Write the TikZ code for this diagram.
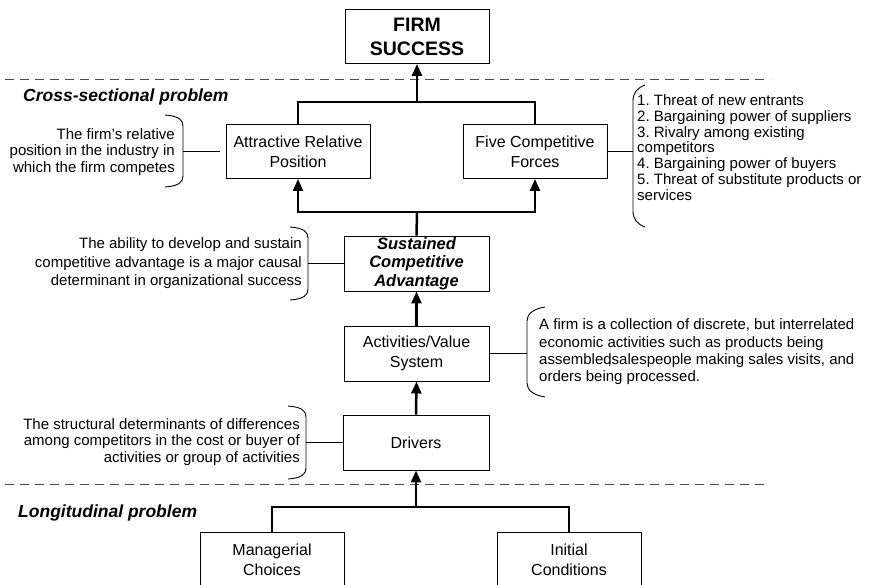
\documentclass[tikz,border=0pt]{standalone}
\usepackage{fontspec}
\setmainfont{Liberation Sans}
\usetikzlibrary{arrows.meta}
\frenchspacing
\begin{document}
\begin{tikzpicture}[x=1pt,y=-1pt,
  box/.style={draw, line width=0.9pt, inner sep=0pt, minimum width=144pt,
    minimum height=54pt, align=center, font=\fontsize{16}{20}\selectfont},
  note/.style={inner sep=0pt, font=\fontsize{15}{16.5}\selectfont},
  heading/.style={inner sep=0pt, anchor=west,
    font=\fontsize{17.5}{20}\selectfont\bfseries\itshape},
  flow/.style={line width=2.5pt},
  flowarrow/.style={line width=2.5pt, -{Triangle[width=10pt,length=12pt]}},
  link/.style={line width=1pt},
  brace/.style={line width=0.9pt},
  divider/.style={line width=1pt, dash pattern=on 9pt off 6pt, black!70}
]
\useasboundingbox (0,0) rectangle (875,584);
\clip (0,0) rectangle (875,584);

% boxes of the causal chain
\node[box, font=\fontsize{19.5}{24}\selectfont\bfseries] (firm) at (417,36.5) {FIRM\\SUCCESS};
\node[box] (arp) at (298,151.5) {Attractive Relative\\Position};
\node[box] (fcf) at (535,151.5) {Five Competitive\\Forces};
\node[box, minimum width=145pt, minimum height=55pt,
  font=\fontsize{16.5}{18.5}\selectfont\bfseries\itshape] (sca) at (416.5,263.5)
  {Sustained\\Competitive\\Advantage};
\node[box, minimum width=145pt, minimum height=55pt] (act) at (416.5,353.5) {Activities/Value\\System};
\node[box, minimum width=146pt, minimum height=55pt] (drv) at (416,442.5) {Drivers};
\node[box, minimum height=56pt] (mc) at (272,560) {Managerial\\Choices};
\node[box, minimum height=56pt] (ic) at (569,560) {Initial\\Conditions};

% section dividers and headings
\coordinate (d1a) at (5,79);  \coordinate (d1b) at (770,79);
\coordinate (d2a) at (5,484); \coordinate (d2b) at (770,484);
\draw[divider] (d1a) -- (d1b);
\draw[divider] (d2a) -- (d2b);
\node[heading] (cross) at (23,97) {Cross-sectional problem};
\node[heading] (longi) at (18,513) {Longitudinal problem};

% tree connectors
\coordinate (j1) at (417,102);
\coordinate (j2) at (417,212);
\coordinate (j3) at (416,507);
\draw[flow] (arp.north) |- (j1) -| (fcf.north);
\draw[flowarrow] (j1) -- (firm.south);
\draw[flow] (sca.north) -- (j2);
\draw[flowarrow] (j2) -| (arp.south);
\draw[flowarrow] (j2) -| (fcf.south);
\draw[flowarrow] (act.north) -- (sca.south);
\draw[flowarrow] (drv.north) -- (act.south);
\draw[flow] (mc.north) |- (j3) -| (ic.north);
\draw[flowarrow] (j3) -- (drv.south);

% annotations on the left (closing braces)
\node[note, anchor=east, align=right] (arpnote) at (175,152)
  {The firm’s relative\\position in the industry in\\which the firm competes};
\draw[brace] (165,115) .. controls (179,116) and (183,120) .. (183,126)
  -- (183,176) .. controls (183,182) and (179,186) .. (165,187);
\coordinate (barp) at (183,151.5);
\draw[link, shorten >=6pt] (barp) -- (arp.west);

\node[note, anchor=east, align=right, font=\fontsize{15}{18.5}\selectfont] (scanote) at (302,263.5)
  {The ability to develop and sustain\\competitive advantage is a major causal\\determinant in organizational success};
\draw[brace] (290,227) .. controls (304,228) and (308,232) .. (308,238)
  -- (308,289) .. controls (308,295) and (304,299) .. (290,300);
\coordinate (bsca) at (308,263.5);
\draw[link] (bsca) -- (sca.west);

\node[note, anchor=east, align=right] (drvnote) at (300,442)
  {The structural determinants of differences\\among competitors in the cost or buyer of\\activities or group of activities};
\draw[brace] (288,406) .. controls (302,407) and (306,411) .. (306,417)
  -- (306,468) .. controls (306,474) and (302,478) .. (288,479);
\coordinate (bdrv) at (306,442.5);
\draw[link] (bdrv) -- (drv.west);

% annotations on the right (opening braces)
\node[note, anchor=west, align=left, font=\fontsize{15}{15.8}\selectfont] (fcfnote) at (637,147.5)
  {1. Threat of new entrants\\2. Bargaining power of suppliers\\3. Rivalry among existing\\competitors\\4. Bargaining power of buyers\\5. Threat of substitute products or\\services};
\draw[brace] (645,85) .. controls (637,88) and (633,93) .. (633,101)
  -- (633,211) .. controls (633,219) and (637,224) .. (645,227);
\coordinate (bfcf) at (633,151.5);
\draw[link] (fcf.east) -- (bfcf);

\node[note, anchor=west, align=left, font=\fontsize{15}{17.3}\selectfont] (actnote) at (539,352)
  {A firm is a collection of discrete, but interrelated\\economic activities such as products being\\assembled\llap{,}salespeople making sales visits, and\\orders being processed.};
\draw[brace] (545,307) .. controls (533,309) and (527,314) .. (527,321)
  -- (527,383) .. controls (527,390) and (533,395) .. (545,397);
\coordinate (bact) at (527,353.5);
\draw[link] (act.east) -- (bact);
\end{tikzpicture}
\end{document}
